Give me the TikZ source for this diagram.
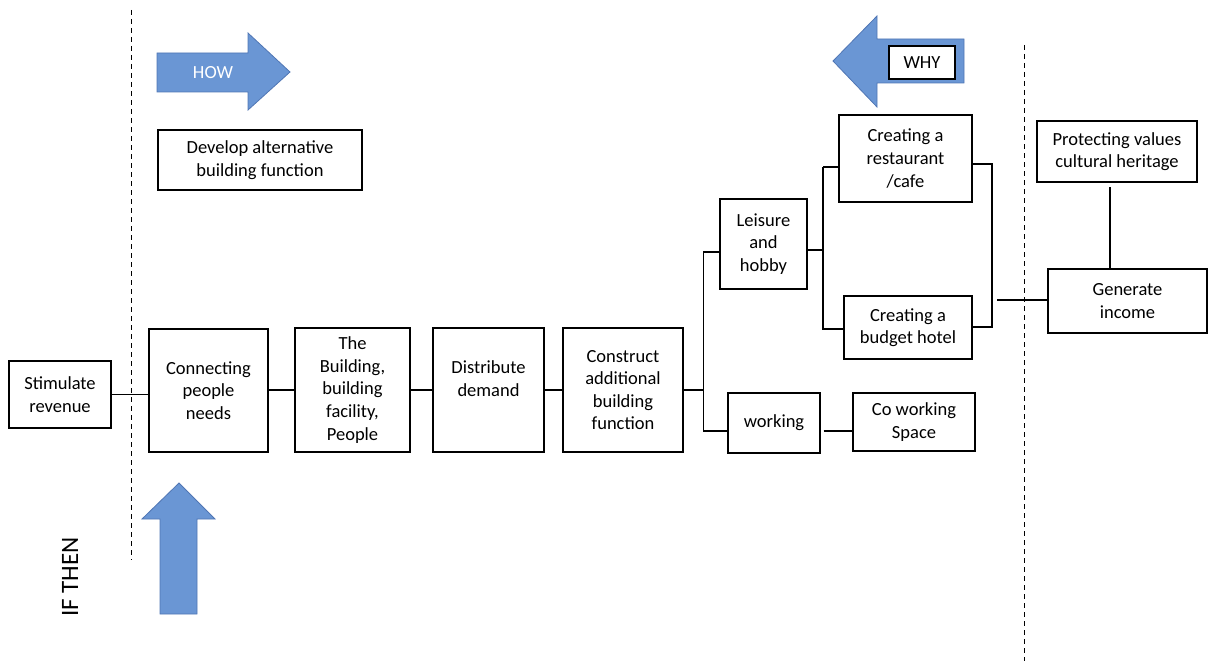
\documentclass[tikz,border=0pt]{standalone}
\usepackage{fontspec}
\setmainfont{Carlito}
\begin{document}
\begin{tikzpicture}[x=1pt,y=-1pt,
  box/.style={draw=black, line width=1.3pt, fill=white, align=center, inner sep=0pt,
    font=\fontsize{18.5}{22.6}\selectfont},
  conn/.style={draw=black, line width=1.3pt},
  guide/.style={draw=black, line width=1pt, dash pattern=on 5pt off 4pt},
  bigarrow/.style={fill={rgb,255:red,106;green,150;blue,212}, draw={rgb,255:red,80;green,118;blue,180}, line width=0.8pt}]
\useasboundingbox (0,0) rectangle (1211,661);

% guides
\draw[guide] (131,10) -- (131,560);
\draw[guide] (1024,45) -- (1024,661);

% big arrows
\draw[bigarrow] (157,53) -- (248,53) -- (248,33) -- (290,72) -- (248,110) -- (248,92) -- (157,92) -- cycle;
\node[text=white, font=\fontsize{18.5}{22.6}\selectfont] (how) at (213,73) {HOW};
\draw[bigarrow] (964,39) -- (877,39) -- (877,16) -- (833,61) -- (877,107) -- (877,83) -- (964,83) -- cycle;
\draw[bigarrow] (160,614) -- (160,519) -- (142,519) -- (179,483) -- (215,519) -- (197,519) -- (197,614) -- cycle;
\node[rotate=90, font=\fontsize{25}{30}\selectfont] (ifthen) at (70,577) {IF THEN};

% boxes
\node[box, minimum width=66, minimum height=33] (why) at (922,62.5) {WHY};
\node[box, minimum width=204, minimum height=60] (dev) at (260,160) {Develop alternative\\building function};
\node[box, minimum width=102, minimum height=67] (stim) at (60,394.5) {Stimulate\\revenue};
\node[box, minimum width=119, minimum height=123] (connp) at (208.5,390.5) {Connecting\\people\\needs};
\node[box, minimum width=115, minimum height=124] (bldg) at (352.5,390) {The\\Building,\\building\\facility,\\People};
\node[box, minimum width=111, minimum height=124] (distr) at (488.5,390) {Distribute\\demand\\\mbox{}};
\node[box, minimum width=120, minimum height=124] (constr) at (623,390) {Construct\\additional\\building\\function};
\node[box, minimum width=87, minimum height=90] (leis) at (763.5,244) {Leisure\\and\\hobby};
\node[box, minimum width=133, minimum height=87] (rest) at (905.5,158.5) {Creating a\\restaurant\\/cafe};
\node[box, minimum width=128, minimum height=63] (hotel) at (908,327.5) {Creating a\\budget hotel};
\node[box, minimum width=92, minimum height=60] (work) at (774,423) {working};
\node[box, minimum width=122, minimum height=58] (cowork) at (914,422) {Co working\\Space};
\node[box, minimum width=160, minimum height=61] (prot) at (1117,151.5) {Protecting values\\cultural heritage};
\node[box, minimum width=159, minimum height=64] (gen) at (1127.5,301) {Generate\\income};

% connectors
\draw[conn] (stim.east) -- (connp.west |- stim.east);
\draw[conn] (connp.east |- bldg.west) -- (bldg.west);
\draw[conn] (bldg.east) -- (distr.west);
\draw[conn] (distr.east) -- (constr.west);
\draw[conn] (constr.east) -- ++(20,0) coordinate (split);
\draw[conn] (split) ++(0,-138) coordinate (st) (st -| leis.west) -- (st) -- (split) -- ++(0,41) coordinate (sb) -- (sb -| work.west);
\draw[conn] (leis.east |- 0,250) coordinate (le) -- (823,250) coordinate (lsplit);
\draw[conn] (823,167) -- (rest.west |- 0,167);
\draw[conn] (823,167) -- (823,329) -- (hotel.west |- 0,329);
\draw[conn] (rest.east |- 0,164) -- (992,164) -- (992,327) -- (hotel.east |- 0,327);
\coordinate (gin) at (997,300);
\draw[conn] (gin) -- (gen.west |- gin);
\draw[conn] (work.east |- 0,431) ++(3,0) -- (cowork.west |- 0,431);
\draw[conn] (1110,187) -- (gen.north -| 1110,0);
\end{tikzpicture}
\end{document}
